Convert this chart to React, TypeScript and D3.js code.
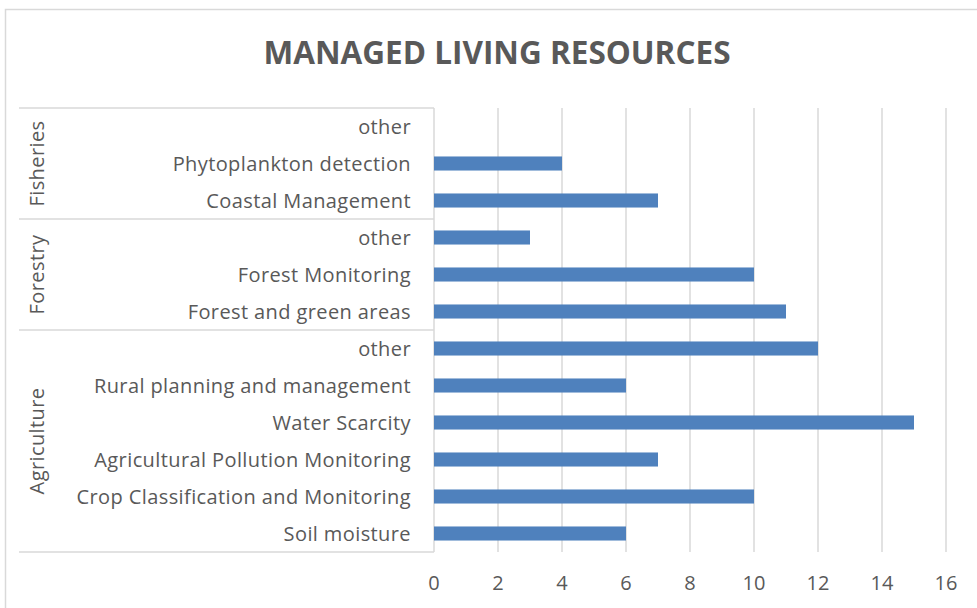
import * as d3 from "d3";

// groups listed from the top of the chart to the bottom
const groups = ["Fisheries", "Forestry", "Agriculture"];

const fisheriesItems = ["other", "Phytoplankton detection", "Coastal Management"];
const fisheriesValues = [0, 4, 7];

const forestryItems = ["other", "Forest Monitoring", "Forest and green areas"];
const forestryValues = [3, 10, 11];

const agricultureItems = [
  "other",
  "Rural planning and management",
  "Water Scarcity",
  "Agricultural Pollution Monitoring",
  "Crop Classification and Monitoring",
  "Soil moisture",
];
const agricultureValues = [12, 6, 15, 7, 10, 6];

const xTicks = [0, 2, 4, 6, 8, 10, 12, 14, 16];

const title = "MANAGED LIVING RESOURCES";

interface Row {
  key: string;
  group: string;
  label: string;
  value: number;
}

const groupItems: Record<string, [string[], number[]]> = {
  Fisheries: [fisheriesItems, fisheriesValues],
  Forestry: [forestryItems, forestryValues],
  Agriculture: [agricultureItems, agricultureValues],
};

const rows: Row[] = groups.flatMap((g) =>
  groupItems[g][0].map((label, i) => ({
    key: `${g}-${label}`,
    group: g,
    label,
    value: groupItems[g][1][i],
  }))
);

export default function App() {
  const width = 977;
  const height = 608;
  const margin = { top: 108, bottom: 56, left: 434, right: 31 };
  const font = "'Open Sans', 'Noto Sans', sans-serif";
  const textColor = "#595959";
  const lineColor = "#d9d9d9";

  const x = d3
    .scaleLinear()
    .domain([0, 16])
    .range([margin.left, width - margin.right]);

  const y = d3
    .scaleBand<string>()
    .domain(rows.map((d) => d.key))
    .range([margin.top, height - margin.bottom])
    .paddingInner(0.62)
    .paddingOuter(0.31);

  const step = y.step();
  const rowCenter = (k: string) => (y(k) || 0) + y.bandwidth() / 2;

  // group boundaries
  let offset = 0;
  const groupSpans = groups.map((g) => {
    const n = groupItems[g][0].length;
    const top = margin.top + offset * step;
    offset += n;
    return { group: g, top, bottom: margin.top + offset * step };
  });

  const catLeft = 19;

  return (
    <svg
      width={width}
      height={height}
      style={{ position: "absolute", left: 0, top: 0, background: "#fff" }}
    >
      {/* outer chart border */}
      <rect x={5.5} y={9.5} width={width + 10} height={height + 10} fill="#fff" stroke={lineColor} strokeWidth={1.5} />

      <text
        x={497}
        y={64}
        textAnchor="middle"
        fontFamily={font}
        fontWeight="bold"
        fontSize={31.5}
        fill={textColor}
      >
        {title}
      </text>

      {/* vertical gridlines */}
      <g>
        {xTicks.slice(1).map((t) => (
          <line
            key={t}
            x1={x(t)}
            x2={x(t)}
            y1={margin.top}
            y2={height - margin.bottom}
            stroke={lineColor}
            strokeWidth={1.5}
          />
        ))}
      </g>

      {/* category axis frame */}
      <g stroke={lineColor} strokeWidth={1.5}>
        <line x1={catLeft} x2={margin.left} y1={margin.top} y2={margin.top} />
        {groupSpans.map((s) => (
          <line key={s.group} x1={catLeft} x2={margin.left} y1={s.bottom} y2={s.bottom} />
        ))}
        <line x1={margin.left} x2={margin.left} y1={margin.top} y2={height - margin.bottom} />
      </g>

      {/* bars */}
      <g>
        {rows.map((d) => (
          <rect
            key={d.key}
            x={x(0)}
            y={y(d.key)}
            width={x(d.value) - x(0)}
            height={y.bandwidth()}
            fill="#4f81bd"
          />
        ))}
      </g>

      {/* category labels */}
      <g fontFamily={font} fontSize={20} letterSpacing={0.4} fill={textColor}>
        {rows.map((d) => (
          <text key={d.key} x={411} y={rowCenter(d.key)} dy="0.35em" textAnchor="end">
            {d.label}
          </text>
        ))}
        {groupSpans.map((s) => (
          <text
            key={s.group}
            transform={`translate(37,${(s.top + s.bottom) / 2}) rotate(-90)`}
            dy="0.35em"
            textAnchor="middle"
          >
            {s.group}
          </text>
        ))}
      </g>

      {/* value axis labels */}
      <g fontFamily={font} fontSize={20} fill={textColor}>
        {xTicks.map((t) => (
          <text key={t} x={x(t)} y={583} dy="0.35em" textAnchor="middle">
            {t}
          </text>
        ))}
      </g>
    </svg>
  );
}
